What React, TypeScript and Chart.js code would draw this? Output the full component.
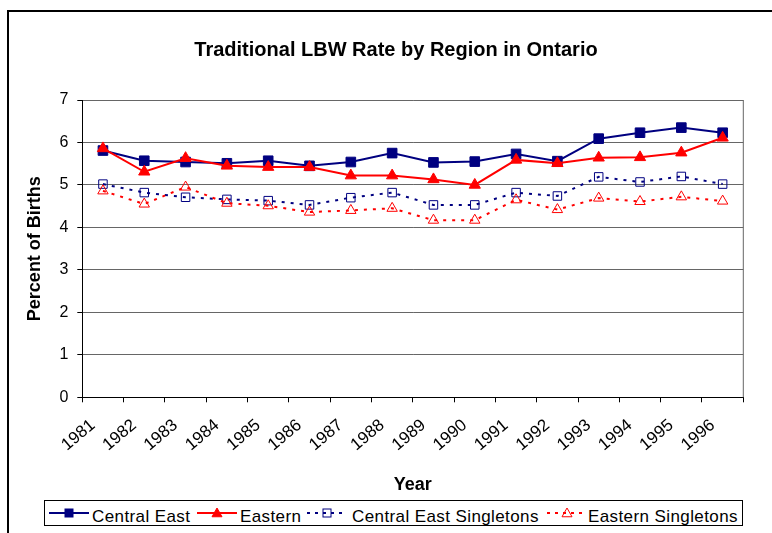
import React, { useEffect, useRef } from "react";
import { Chart, registerables } from "chart.js";

Chart.register(...registerables);

const FONT = "'Liberation Sans', Arial, Helvetica, sans-serif";

const chartTitle = "Traditional LBW Rate by Region in Ontario";
const xAxisTitle = "Year";
const yAxisTitle = "Percent of Births";
const years = ["1981", "1982", "1983", "1984", "1985", "1986", "1987", "1988", "1989", "1990", "1991", "1992", "1993", "1994", "1995", "1996"];
const centralEast = [5.81, 5.57, 5.54, 5.51, 5.57, 5.45, 5.54, 5.75, 5.53, 5.55, 5.73, 5.56, 6.09, 6.23, 6.35, 6.23];
const eastern = [5.86, 5.31, 5.63, 5.45, 5.42, 5.42, 5.22, 5.22, 5.13, 5.0, 5.59, 5.51, 5.64, 5.65, 5.76, 6.11];
const centralEastSingletons = [5.02, 4.82, 4.71, 4.66, 4.63, 4.53, 4.7, 4.82, 4.53, 4.53, 4.82, 4.74, 5.19, 5.07, 5.2, 5.02];
const easternSingletons = [4.86, 4.55, 4.95, 4.57, 4.51, 4.36, 4.4, 4.45, 4.17, 4.17, 4.65, 4.42, 4.69, 4.61, 4.72, 4.62];

const seriesNames = ["Central East", "Eastern", "Central East Singletons", "Eastern Singletons"];
const yMin = 0;
const yMax = 7;
const yStep = 1;

const NAVY = "#000080";
const RED = "#FF0000";

const plotFrame = {
  id: "plotFrame",
  beforeDatasetsDraw(chart: any) {
    const { ctx, chartArea: a } = chart;
    ctx.save();
    ctx.strokeStyle = "#666666";
    ctx.lineWidth = 1;
    ctx.beginPath();
    ctx.moveTo(a.right, a.top);
    ctx.lineTo(a.right, a.bottom);
    ctx.stroke();
    ctx.restore();
  },
  afterDraw(chart: any) {
    const { ctx } = chart;
    ctx.save();
    ctx.fillStyle = "#000";
    ctx.font = `bold 20px ${FONT}`;
    ctx.textAlign = "center";
    ctx.textBaseline = "alphabetic";
    ctx.fillText(chartTitle, 396, 55.5);
    ctx.restore();
  },
};

function LegendSymbol({ color, dashed, shape, hollow, x }: any) {
  const w = 40;
  const cx = w / 2;
  const cy = 6;
  let marker;
  if (shape === "rect") {
    const s = 8;
    marker = (
      <rect x={cx - s / 2} y={cy - s / 2} width={s} height={s} fill={hollow ? "none" : color} stroke={color} strokeWidth={1} />
    );
  } else {
    const r = 5;
    marker = (
      <polygon
        points={`${cx},${cy - r} ${cx + r},${cy + r * 0.75} ${cx - r},${cy + r * 0.75}`}
        fill={hollow ? "none" : color}
        stroke={color}
        strokeWidth={1}
      />
    );
  }
  return (
    <svg width={w} height={14} style={{ position: "absolute", left: x, top: 6 }}>
      <line x1={0} y1={cy} x2={w} y2={cy} stroke={color} strokeWidth={2} strokeDasharray={dashed ? "3 5" : undefined} />
      {marker}
    </svg>
  );
}

export default function App() {
  const canvasRef = useRef<HTMLCanvasElement | null>(null);

  useEffect(() => {
    if (!canvasRef.current) return;
    Chart.defaults.font.family = FONT;
    const chart = new Chart(canvasRef.current, {
      type: "line",
      data: {
        labels: years,
        datasets: [
          {
            label: seriesNames[0],
            data: centralEast,
            borderColor: NAVY,
            backgroundColor: NAVY,
            borderWidth: 2,
            pointStyle: "rect",
            pointRadius: 6.8,
            pointBorderWidth: 1,
            pointBackgroundColor: NAVY,
            pointBorderColor: NAVY,
            order: 2,
          },
          {
            label: seriesNames[1],
            data: eastern,
            borderColor: RED,
            backgroundColor: RED,
            borderWidth: 2,
            pointStyle: "triangle",
            pointRadius: 6.5,
            pointBorderWidth: 1,
            pointBackgroundColor: RED,
            pointBorderColor: RED,
            order: 1,
          },
          {
            label: seriesNames[2],
            data: centralEastSingletons,
            borderColor: NAVY,
            backgroundColor: "transparent",
            borderWidth: 2,
            borderDash: [3, 6],
            pointStyle: "rect",
            pointRadius: 6,
            pointBorderWidth: 1,
            pointBackgroundColor: "transparent",
            pointBorderColor: NAVY,
            order: 4,
          },
          {
            label: seriesNames[3],
            data: easternSingletons,
            borderColor: RED,
            backgroundColor: "transparent",
            borderWidth: 2,
            borderDash: [3, 6],
            pointStyle: "triangle",
            pointRadius: 6,
            pointBorderWidth: 1,
            pointBackgroundColor: "transparent",
            pointBorderColor: RED,
            order: 3,
          },
        ],
      },
      options: {
        responsive: false,
        animation: false,
        layout: { padding: { left: 0, right: 28.7, top: 100, bottom: 0 } },
        plugins: {
          legend: { display: false },
          tooltip: { enabled: false },
          title: { display: false },
        },
        scales: {
          x: {
            type: "category",
            offset: true,
            grid: {
              display: true,
              drawOnChartArea: false,
              drawTicks: true,
              tickLength: 5,
              offset: true,
              color: "#000",
              tickColor: "#000",
            },
            border: { color: "#000", width: 1 },
            ticks: {
              autoSkip: false,
              maxRotation: 40,
              minRotation: 40,
              color: "#000",
              font: { size: 17, family: FONT },
              padding: 13,
              labelOffset: -10,
            },
            title: {
              display: true,
              text: xAxisTitle,
              color: "#000",
              font: { size: 18, weight: "bold", family: FONT },
              padding: { top: 0, bottom: 37.2 },
            },
            afterFit: (s: any) => {
              s.height = 135.7;
            },
          },
          y: {
            min: yMin,
            max: yMax,
            ticks: { stepSize: yStep, color: "#000", font: { size: 16, family: FONT }, padding: 9 },
            grid: { color: "#666666", lineWidth: 1, tickLength: 5, tickColor: "#000" },
            border: { color: "#000", width: 1 },
            title: {
              display: true,
              text: yAxisTitle,
              color: "#000",
              font: { size: 18, weight: "bold", family: FONT },
              padding: { top: 24.2, bottom: 0 },
            },
            afterFit: (s: any) => {
              s.width = 82.3;
            },
          },
        },
      } as any,
      plugins: [plotFrame],
    });
    return () => chart.destroy();
  }, []);

  const textStyle = (x: number): React.CSSProperties => ({
    position: "absolute",
    left: x,
    top: 7,
    fontFamily: FONT,
    fontSize: 17,
    letterSpacing: "0.4px",
    lineHeight: "17px",
    color: "#000",
    whiteSpace: "nowrap",
  });

  return (
    <div style={{ position: "absolute", left: 0, top: 0, width: 772, height: 533, overflow: "hidden", background: "#fff" }}>
      <div style={{ position: "absolute", left: 7, top: 10, width: 800, height: 600, border: "2px solid #000", boxSizing: "border-box" }} />
      <canvas ref={canvasRef} width={772} height={533} style={{ position: "absolute", left: 0, top: 0, width: 772, height: 533 }} />
      <div
        style={{
          position: "absolute",
          left: 44,
          top: 500,
          width: 699,
          height: 26,
          border: "1px solid #000",
          boxSizing: "border-box",
          background: "#fff",
        }}
      >
        <LegendSymbol color={NAVY} shape="rect" x={4} />
        <span style={textStyle(47)}>{seriesNames[0]}</span>
        <LegendSymbol color={RED} shape="triangle" x={152} />
        <span style={textStyle(195)}>{seriesNames[1]}</span>
        <LegendSymbol color={NAVY} shape="rect" hollow dashed x={262} />
        <span style={textStyle(307)}>{seriesNames[2]}</span>
        <LegendSymbol color={RED} shape="triangle" hollow dashed x={502} />
        <span style={textStyle(543)}>{seriesNames[3]}</span>
      </div>
    </div>
  );
}
